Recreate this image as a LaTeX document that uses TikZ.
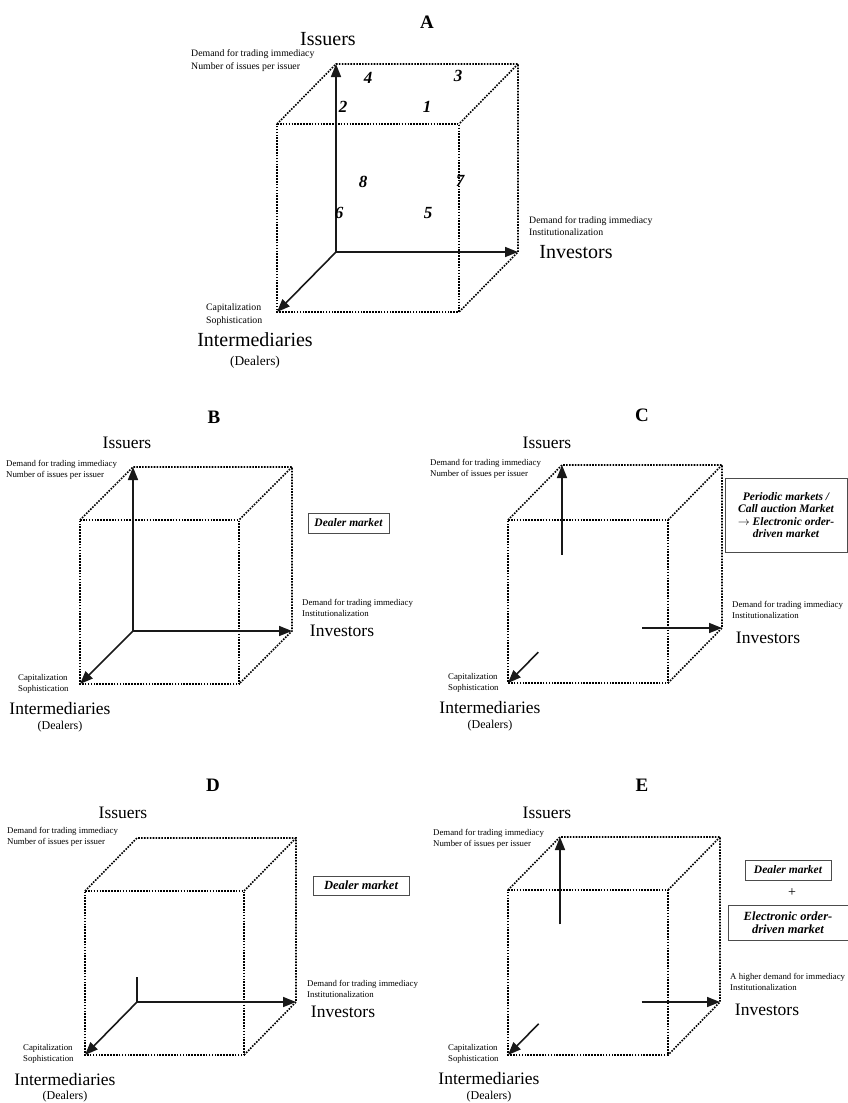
\documentclass[tikz,border=0pt]{standalone}
\usepackage{fontspec}
\setmainfont{Liberation Serif}
\usepackage{tikz}
\usetikzlibrary{arrows.meta, calc}
\tikzset{
  cubeedge/.style={line width=1.6pt, dash pattern=on 1.6pt off 1.3pt, color=black},
  axis/.style={-{Triangle[length=13pt,width=10pt]}, line width=1.6pt, color=black!90},
  stub/.style={line width=1.6pt, color=black!90},
  paneltitle/.style={inner sep=0pt, font=\bfseries\fontsize{19}{22}\selectfont},
  bigaxname/.style={inner sep=0pt, font=\fontsize{20}{22}\selectfont},
  axname/.style={inner sep=0pt, font=\fontsize{17.5}{20}\selectfont},
  dealersA/.style={inner sep=0pt, font=\fontsize{13.4}{15}\selectfont},
  dealers/.style={inner sep=0pt, font=\fontsize{12}{14}\selectfont},
  noteA/.style={inner sep=0pt, anchor=west, align=left, font=\fontsize{9.8}{12.5}\selectfont},
  note/.style={inner sep=0pt, anchor=west, align=left, font=\fontsize{8.8}{11}\selectfont},
  num/.style={inner sep=0pt, font=\bfseries\itshape\fontsize{17}{20}\selectfont},
  market/.style={draw=black!70, line width=0.8pt, inner sep=2pt, align=center,
    font=\bfseries\itshape\fontsize{11.5}{12.5}\selectfont}
}
% cube: prefix, origin x, origin y, width, height, depth shift left, depth shift down
\newcommand{\cubeframe}[7]{%
  \coordinate (#1-o)   at (#2,#3);
  \coordinate (#1-btl) at (#2,#3-#5);
  \coordinate (#1-btr) at (#2+#4,#3-#5);
  \coordinate (#1-bbr) at (#2+#4,#3);
  \coordinate (#1-ftl) at (#2-#6,#3-#5+#7);
  \coordinate (#1-ftr) at (#2+#4-#6,#3-#5+#7);
  \coordinate (#1-fbl) at (#2-#6,#3+#7);
  \coordinate (#1-fbr) at (#2+#4-#6,#3+#7);
  \draw[cubeedge] (#1-ftl) -- (#1-ftr) -- (#1-fbr) -- (#1-fbl) -- cycle;
  \draw[cubeedge] (#1-ftl) -- (#1-btl) -- (#1-btr) -- (#1-bbr) -- (#1-fbr);
  \draw[cubeedge] (#1-btr) -- (#1-ftr);
}

\begin{document}
\begin{tikzpicture}[x=1pt,y=-1pt]
  \useasboundingbox (0,0) rectangle (848,1103);

  % ── Panel A ──
  \cubeframe{A}{336}{252}{182}{188}{59}{60}
  \draw[axis] (A-o) -- (A-btl);
  \draw[axis] (A-o) -- (A-bbr);
  \draw[axis] (A-o) -- (A-fbl);
  \node[paneltitle] (A-title) at (427,22) {A};
  \node[bigaxname] (A-iss) at (328,39) {Issuers};
  \node[noteA] (A-issnote) at (191,60.5) {Demand for trading immediacy\\Number of issues per issuer};
  \node[noteA] (A-invnote) at (529,226) {Demand for trading immediacy\\Institutionalization};
  \node[bigaxname] (A-inv) at (576,252) {Investors};
  \node[noteA] (A-intnote) at (206,314.5) {Capitalization\\Sophistication};
  \node[bigaxname] (A-int) at (255,340) {Intermediaries};
  \node[dealersA] (A-dl) at (255,362) {(Dealers)};
  % octant numbers
  \foreach \n/\x/\y in {1/427/107, 2/343/107, 3/458/76, 4/368/78,
                        5/428/213, 6/339/213, 7/460/181, 8/363/182}
    \node[num] (A-n\n) at (\x,\y) {\n};

  % ── Panel B ──
  \cubeframe{B}{133}{631}{159}{164}{53}{53}
  \draw[axis] (B-o) -- (B-btl);
  \draw[axis] (B-o) -- (B-bbr);
  \draw[axis] (B-o) -- (B-fbl);
  \node[paneltitle] (B-title) at (214,417) {B};
  \node[axname] (B-iss) at (127,443) {Issuers};
  \node[note] (B-issnote) at (6,469.5) {Demand for trading immediacy\\Number of issues per issuer};
  \node[market, minimum width=81pt, minimum height=20pt] (B-box) at (348.5,523) {Dealer market};
  \node[note] (B-invnote) at (302,608) {Demand for trading immediacy\\Institutionalization};
  \node[axname] (B-inv) at (342,631) {Investors};
  \node[note] (B-intnote) at (18,683.5) {Capitalization\\Sophistication};
  \node[axname] (B-int) at (60,709) {Intermediaries};
  \node[dealers] (B-dl) at (60,727) {(Dealers)};

  % ── Panel C ──
  \cubeframe{C}{562}{628}{160}{163}{54}{55}
  \coordinate (C-iss0) at ($(C-o)!.45!(C-btl)$);
  \coordinate (C-inv0) at ($(C-o)!.5!(C-bbr)$);
  \coordinate (C-int0) at ($(C-o)!.44!(C-fbl)$);
  \draw[axis] (C-iss0) -- (C-btl);
  \draw[axis] (C-inv0) -- (C-bbr);
  \draw[axis] (C-int0) -- (C-fbl);
  \node[paneltitle] (C-title) at (642,415) {C};
  \node[axname] (C-iss) at (547,443) {Issuers};
  \node[note] (C-issnote) at (430,468.5) {Demand for trading immediacy\\Number of issues per issuer};
  \node[market, minimum width=122pt, minimum height=74pt] (C-box) at (786,515)
    {Periodic markets /\\Call auction Market\\$\rightarrow$ Electronic order-\\driven market};
  \node[note] (C-invnote) at (732,609.5) {Demand for trading immediacy\\Institutionalization};
  \node[axname] (C-inv) at (768,638) {Investors};
  \node[note] (C-intnote) at (448,682.5) {Capitalization\\Sophistication};
  \node[axname] (C-int) at (490,708) {Intermediaries};
  \node[dealers] (C-dl) at (490,726) {(Dealers)};

  % ── Panel D ──
  \cubeframe{D}{137}{1002}{159}{164}{52}{53}
  \coordinate (D-iss0) at ($(D-o)!.15!(D-btl)$);
  \draw[stub] (D-o) -- (D-iss0);
  \draw[axis] (D-o) -- (D-bbr);
  \draw[axis] (D-o) -- (D-fbl);
  \node[paneltitle] (D-title) at (213,785) {D};
  \node[axname] (D-iss) at (123,813) {Issuers};
  \node[note] (D-issnote) at (7,837) {Demand for trading immediacy\\Number of issues per issuer};
  \node[market, minimum width=96pt, minimum height=19pt, font=\bfseries\itshape\fontsize{12.5}{13}\selectfont]
    (D-box) at (361,885.5) {Dealer market};
  \node[note] (D-invnote) at (307,989) {Demand for trading immediacy\\Institutionalization};
  \node[axname] (D-inv) at (343,1012) {Investors};
  \node[note] (D-intnote) at (23,1053.5) {Capitalization\\Sophistication};
  \node[axname] (D-int) at (65,1080) {Intermediaries};
  \node[dealers] (D-dl) at (65,1097) {(Dealers)};

  % ── Panel E ──
  \cubeframe{E}{560}{1002}{160}{165}{52}{53}
  \coordinate (E-iss0) at ($(E-o)!.47!(E-btl)$);
  \coordinate (E-inv0) at ($(E-o)!.51!(E-bbr)$);
  \coordinate (E-int0) at ($(E-o)!.41!(E-fbl)$);
  \draw[axis] (E-iss0) -- (E-btl);
  \draw[axis] (E-inv0) -- (E-bbr);
  \draw[axis] (E-int0) -- (E-fbl);
  \node[paneltitle] (E-title) at (642,785) {E};
  \node[axname] (E-iss) at (547,813) {Issuers};
  \node[note] (E-issnote) at (433,838.5) {Demand for trading immediacy\\Number of issues per issuer};
  \node[market, minimum width=86pt, minimum height=20pt] (E-box1) at (788,870) {Dealer market};
  \node[inner sep=0pt, font=\fontsize{14}{16}\selectfont] (E-plus) at (792,893) {+};
  \node[market, minimum width=120pt, minimum height=35pt, font=\bfseries\itshape\fontsize{12.5}{13.5}\selectfont]
    (E-box2) at (788,922.5) {Electronic order-\\driven market};
  \node[note] (E-invnote) at (730,982) {A higher demand for immediacy\\Institutionalization};
  \node[axname] (E-inv) at (767,1010) {Investors};
  \node[note] (E-intnote) at (448,1053.5) {Capitalization\\Sophistication};
  \node[axname] (E-int) at (489,1079) {Intermediaries};
  \node[dealers] (E-dl) at (489,1097) {(Dealers)};
\end{tikzpicture}
\end{document}
